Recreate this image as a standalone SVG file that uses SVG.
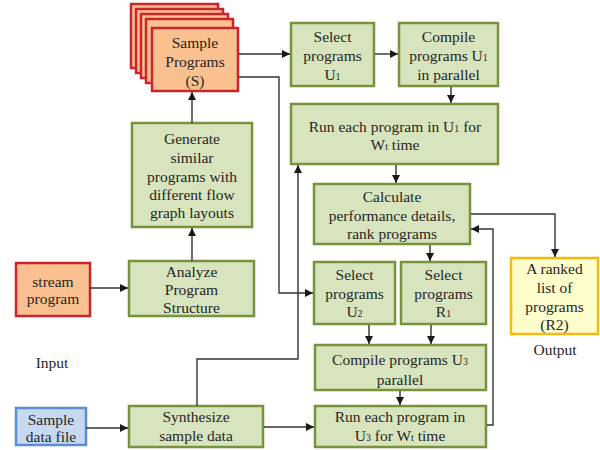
<svg xmlns="http://www.w3.org/2000/svg" width="600" height="450" viewBox="0 0 600 450">
<defs>
<marker id="ah" markerUnits="userSpaceOnUse" markerWidth="9" markerHeight="8" refX="8" refY="4" orient="auto">
<path d="M0,0 L8,4 L0,8 Z" fill="#1a1a1a"/>
</marker>
<style>
.g{fill:#d7e4bd;stroke:#77933c;stroke-width:2.5}
.o{fill:#fac090;stroke:#c9252c;stroke-width:2.5}
.y{fill:#fefdcc;stroke:#f6b90f;stroke-width:2.5}
.b{fill:#c6d9f1;stroke:#5b8fd0;stroke-width:2.5}
text{font-family:"Liberation Serif","Times New Roman",serif;font-size:15.5px;fill:#262626;text-anchor:middle}
.s{font-size:10px}
.c path{fill:none;stroke:#333;stroke-width:1.4}
</style>
</defs>
<g id="sample-programs">
<rect class="o" x="131" y="4" width="87" height="64"/>
<rect class="o" x="136" y="9" width="87" height="64"/>
<rect class="o" x="141" y="14" width="87" height="64"/>
<rect class="o" x="146" y="19" width="87" height="64"/>
<rect class="o" x="152" y="28" width="86" height="63"/>
<text x="195" y="48">Sample</text>
<text x="195" y="67">Programs</text>
<text x="195" y="86">(S)</text>
</g>
<g id="select-u1">
<rect class="g" x="291" y="23" width="83" height="63"/>
<text x="332.5" y="42">Select</text>
<text x="332.5" y="61">programs</text>
<text x="332.5" y="80">U<tspan class="s">1</tspan></text>
</g>
<g id="compile-u1">
<rect class="g" x="399" y="23" width="99" height="63"/>
<text x="448.5" y="42">Compile</text>
<text x="448.5" y="61">programs U<tspan class="s">1</tspan></text>
<text x="448.5" y="80">in parallel</text>
</g>
<g id="run-u1">
<rect class="g" x="291" y="104" width="207" height="60"/>
<text x="395" y="132">Run each program in U<tspan class="s">1</tspan> for</text>
<text x="395" y="150">W<tspan class="s">t</tspan> time</text>
</g>
<g id="generate">
<rect class="g" x="132" y="123" width="120" height="104"/>
<text x="192" y="144">Generate</text>
<text x="192" y="163">similar</text>
<text x="192" y="182">programs with</text>
<text x="192" y="200">different flow</text>
<text x="192" y="218">graph layouts</text>
</g>
<g id="analyze">
<rect class="g" x="129" y="261" width="125" height="55"/>
<text x="191.5" y="277">Analyze</text>
<text x="191.5" y="295">Program</text>
<text x="191.5" y="313">Structure</text>
</g>
<g id="calculate">
<rect class="g" x="314" y="184" width="156" height="60"/>
<text x="392" y="202">Calculate</text>
<text x="392" y="221">performance details,</text>
<text x="392" y="239">rank programs</text>
</g>
<g id="select-u2">
<rect class="g" x="314" y="262" width="81" height="62"/>
<text x="354.5" y="280">Select</text>
<text x="354.5" y="299">programs</text>
<text x="354.5" y="317">U<tspan class="s">2</tspan></text>
</g>
<g id="select-r1">
<rect class="g" x="401" y="262" width="85" height="62"/>
<text x="443.5" y="280">Select</text>
<text x="443.5" y="299">programs</text>
<text x="443.5" y="317">R<tspan class="s">1</tspan></text>
</g>
<g id="ranked-list">
<rect class="y" x="511" y="258" width="87" height="76"/>
<text x="554.5" y="274">A ranked</text>
<text x="554.5" y="293">list of</text>
<text x="554.5" y="312">programs</text>
<text x="554.5" y="330">(R2)</text>
</g>
<g id="output-label"><text x="555" y="355">Output</text></g>
<g id="compile-u3">
<rect class="g" x="315" y="345" width="171" height="45"/>
<text x="400" y="365">Compile programs U<tspan class="s">3</tspan></text>
<text x="400" y="385">parallel</text>
</g>
<g id="run-u3">
<rect class="g" x="315" y="406" width="171" height="41"/>
<text x="400" y="422">Run each program in</text>
<text x="400" y="441">U<tspan class="s">3</tspan> for W<tspan class="s">t</tspan> time</text>
</g>
<g id="synthesize">
<rect class="g" x="129" y="406" width="134" height="41"/>
<text x="196" y="422">Synthesize</text>
<text x="196" y="441">sample data</text>
</g>
<g id="stream-program">
<rect class="o" x="16" y="263" width="74" height="53"/>
<text x="53" y="287">stream</text>
<text x="53" y="304">program</text>
</g>
<g id="input-label"><text x="52" y="368">Input</text></g>
<g id="sample-data">
<rect class="b" x="16" y="408" width="70" height="37"/>
<text x="51" y="425">Sample</text>
<text x="51" y="442">data file</text>
</g>
<g id="connectors" class="c">
<path d="M90,288 H128" marker-end="url(#ah)"/>
<path d="M86,428 H128" marker-end="url(#ah)"/>
<path d="M192,261 V228" marker-end="url(#ah)"/>
<path d="M192,123 V92" marker-end="url(#ah)"/>
<path d="M239,54 H290" marker-end="url(#ah)"/>
<path d="M239,77 H279 V293 H313" marker-end="url(#ah)"/>
<path d="M375,54 H398" marker-end="url(#ah)"/>
<path d="M451,87 V103" marker-end="url(#ah)"/>
<path d="M396,165 V183" marker-end="url(#ah)"/>
<path d="M197,406 V359 H298 V165" marker-end="url(#ah)"/>
<path d="M430,245 V261" marker-end="url(#ah)"/>
<path d="M471,214 H555 V257" marker-end="url(#ah)"/>
<path d="M487,425 H493 V229 H471" marker-end="url(#ah)"/>
<path d="M369,325 V344" marker-end="url(#ah)"/>
<path d="M431,325 V344" marker-end="url(#ah)"/>
<path d="M400,391 V405" marker-end="url(#ah)"/>
<path d="M264,427 H314" marker-end="url(#ah)"/>
</g>
</svg>
